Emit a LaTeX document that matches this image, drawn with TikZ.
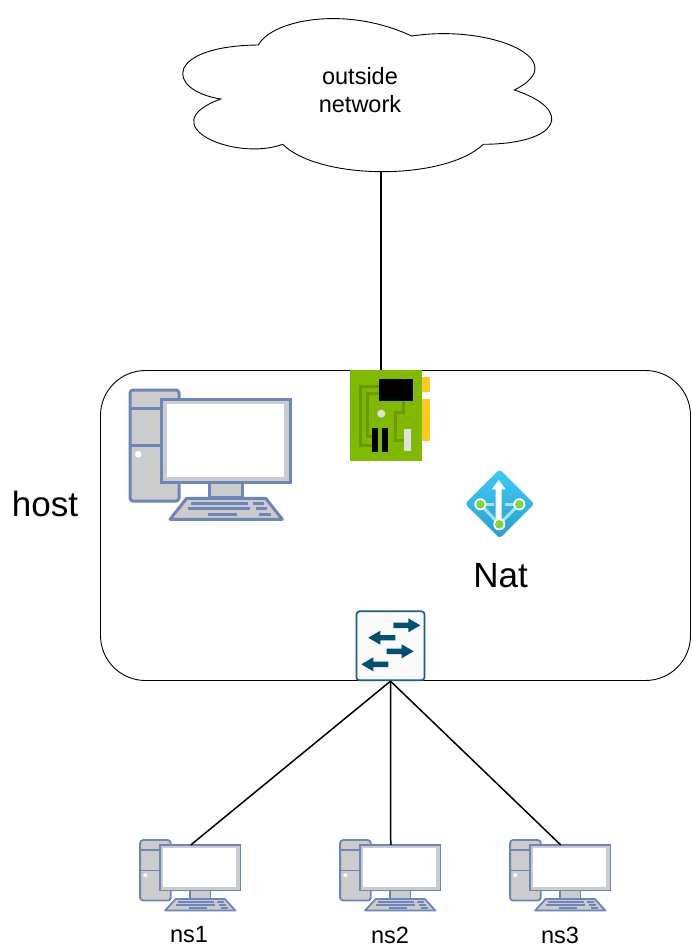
\documentclass[tikz,border=0pt]{standalone}
\usepackage{fontspec}
\setmainfont{Liberation Sans}
\definecolor{iconblue}{HTML}{6C86BA}
\definecolor{icongrey}{HTML}{CCCCCC}
\definecolor{nicgreen}{HTML}{7FBA00}
\definecolor{nictrace}{HTML}{6B9A00}
\definecolor{nicgold}{HTML}{FFCA1E}
\definecolor{swblue}{HTML}{005073}
\definecolor{nattop}{HTML}{3CCBF4}
\definecolor{natbottom}{HTML}{2A9FD0}
\definecolor{natline}{HTML}{A9E3F7}
\definecolor{natdot}{HTML}{86D633}
\tikzset{
  lbl/.style={font=\fontsize{23.5}{28}\selectfont, align=center, inner sep=0pt},
  biglbl/.style={font=\fontsize{35}{42}\selectfont, inner sep=0pt},
  computer/.pic={
    % tower
    \draw[iconblue, fill=icongrey, rounded corners=3] (1,1) rectangle (50,112);
    \draw[iconblue] (1,19.3) -- (33,19.3);
    \draw[iconblue] (1,56.7) -- (33,56.7);
    \fill[white] (9.3,65.3) circle (3.3);
    % stand and keyboard
    \draw[iconblue, fill=icongrey] (80.3,93.7) rectangle (113.7,108.7);
    \draw[iconblue, fill=icongrey, line join=round] (57.7,109.3) -- (136.7,109.3) -- (153.3,130.3) -- (41,130.3) -- cycle;
    \draw[iconblue] (62,114) -- (119.3,114) (124.3,114) -- (135,114);
    \draw[iconblue] (58.7,119.7) -- (121,119.7) (127,119.7) -- (138,119.7);
    \draw[iconblue] (79.3,125) -- (107.7,125) (130,125) -- (141.7,125);
    % monitor
    \draw[iconblue, fill=icongrey] (32.7,10) rectangle (161.7,93.7);
    \fill[white] (37.7,15.3) rectangle (155,87.7);
    \coordinate (-top) at (82,10);
  }
}

\begin{document}
\begin{tikzpicture}[x=1pt, y=-1pt]
\useasboundingbox (0,0) rectangle (691,952);

% cloud
\draw[line width=0.9pt] (258.3,45) .. controls (272,20) and (345,5) .. (411.7,36)
  .. controls (490,24) and (575,60) .. (514.3,90)
  .. controls (575,110) and (560,144) .. (483.3,144.3)
  .. controls (445,180.8) and (320,180.8) .. (282.7,144.3)
  .. controls (235,162) and (150,125) .. (220.7,99)
  .. controls (165,90) and (165,46) .. cycle;
\node[lbl] (outside) at (360,90.5) {outside\\network};
\coordinate (cloudS) at (381,171.5);

% host box
\draw[line width=0.9pt, rounded corners=45] (100.5,370.5) rectangle (690.5,680.5);
\node[biglbl] (host) at (45,504) {host};
\node[biglbl] (nat) at (500.5,576) {Nat};

% host computer
\pic[line width=3pt] (pc) at (129,389) {computer};

% network card
\fill[nicgold] (422,376.7) rectangle (430,392);
\fill[nicgold] (422,399) rectangle (430,440.7);
\node[fill=nicgreen, minimum width=72pt, minimum height=91pt, inner sep=0pt] (nic) at (386,415.4) {};
\draw[nictrace, line width=3pt] (379,386) -- (360,386) -- (360,445) -- (372,445);
\draw[nictrace, line width=3pt] (379,393.3) -- (367.7,393.3) -- (367.7,436) -- (372,436);
\draw[nictrace, line width=3pt] (403.3,400) -- (403.3,412.7) -- (395,412.7) -- (395,440) -- (404,440);
\fill[black] (379,379) rectangle (412.7,400.7);
\fill[black] (372.3,427.7) rectangle (378.3,451.7);
\fill[black] (382,427.7) rectangle (388,451.7);
\fill[white!88!black] (403.7,429) rectangle (411,451);
\fill[white!88!black] (381.3,413.7) circle (4);

% nat icon
\shade[top color=nattop, bottom color=natbottom, rounded corners=3] (499.7,469.3) -- (534.3,503.8) -- (499.7,538.3) -- (465,503.8) -- cycle;
\draw[natline, line width=3pt] (480.3,504.3) -- (499.3,524.3) -- (519.3,504.3);
\draw[natline, line width=3pt] (480.3,504.3) -- (494,504.3) (505,504.3) -- (519.3,504.3);
\fill[white] (495.7,525) -- (495.7,489.3) -- (491.7,489.3) -- (498.7,480) -- (505.7,489.3) -- (501.7,489.3) -- (501.7,525) -- cycle;
\foreach \x/\y in {480.3/504.3, 519.3/504.3, 499.3/524.3} {
  \fill[white] (\x,\y) circle (6);
  \fill[natdot] (\x,\y) circle (4.3);
}

% switch
\node[draw=swblue!90!white, fill=white!98!black, line width=1.7pt, rounded corners=3,
  minimum width=68pt, minimum height=69pt, inner sep=0pt] (switch) at (390.5,645.8) {};
\foreach \x/\y/\s in {393.3/625.3/1, 395.3/637.7/-1, 386.7/651.3/1, 388.3/664.3/-1} {
  \fill[swblue, shift={(\x,\y)}, xscale=\s] (0,-2.7) -- (15,-2.7) -- (15,-7) -- (27,0) -- (15,7) -- (15,2.7) -- (0,2.7) -- cycle;
}

% namespaces
\pic[line width=1.8pt, xscale=0.625, yscale=0.545] (ns1) at (139.5,839.5) {computer};
\pic[line width=1.8pt, xscale=0.625, yscale=0.545] (ns2) at (339.5,839.5) {computer};
\pic[line width=1.8pt, xscale=0.625, yscale=0.545] (ns3) at (509.5,839.5) {computer};
\node[lbl] (ns1lbl) at (189,935) {ns1};
\node[lbl] (ns2lbl) at (390,935) {ns2};
\node[lbl] (ns3lbl) at (560,935) {ns3};

% links
\draw[line width=1.5pt] (cloudS) -- (cloudS|-nic.north);
\draw[line width=1.5pt] (switch.south) -- (ns1-top);
\draw[line width=1.5pt] (switch.south) -- (ns2-top);
\draw[line width=1.5pt] (switch.south) -- (ns3-top);

\end{tikzpicture}
\end{document}
